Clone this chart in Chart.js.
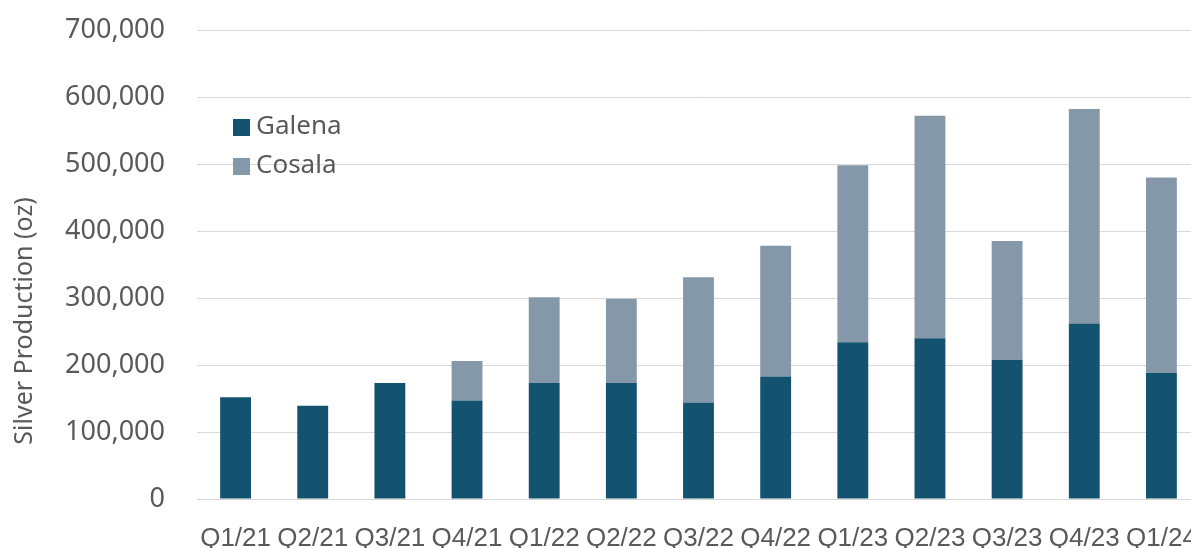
<!DOCTYPE html>
<html>
<head>
<meta charset="utf-8">
<title>Silver Production</title>
<script src="https://cdn.jsdelivr.net/npm/chart.js@4.4.1/dist/chart.umd.min.js"></script>
<style>
  html, body { margin: 0; padding: 0; background: #fff; overflow: hidden; }
  .chart-wrap { width: 1200px; height: 548px; }
</style>
</head>
<body>
<div class="chart-wrap">
  <canvas id="silverChart" width="1200" height="548"></canvas>
</div>
<script>
const quarters = ['Q1/21', 'Q2/21', 'Q3/21', 'Q4/21', 'Q1/22', 'Q2/22', 'Q3/22', 'Q4/22', 'Q1/23', 'Q2/23', 'Q3/23', 'Q4/23', 'Q1/24'];
const galena = [152000, 139000, 173000, 147000, 173000, 173000, 144000, 183000, 234000, 240000, 208000, 262000, 188000];
const cosala = [null, null, null, 59000, 128000, 126000, 187000, 195000, 264000, 332000, 177000, 320000, 292000];
const yTicks = [0, 100000, 200000, 300000, 400000, 500000, 600000, 700000];
const yTitle = 'Silver Production (oz)';

const textGrey = '#595959';
const mainFont = "'Noto Sans', 'Open Sans', sans-serif";
const axisFont = "'Liberation Sans', Arial, sans-serif";

// legend sits inside the plot (top-left) and the axis title sits a bit low,
// so both are drawn here instead of by the built-in legend/title
const extraText = {
  id: 'extraText',
  afterDatasetsDraw(chart) {
    const ctx = chart.ctx;
    ctx.save();
    ctx.font = '26px ' + mainFont;
    ctx.textBaseline = 'middle';
    chart.data.datasets.forEach((ds, i) => {
      const cy = 127 + i * 39;
      ctx.fillStyle = ds.backgroundColor;
      ctx.fillRect(233, cy - 8, 17, 17);
      ctx.fillStyle = textGrey;
      ctx.fillText(ds.label, 256, cy);
    });

    ctx.translate(25, 321);
    ctx.rotate(-Math.PI / 2);
    ctx.textAlign = 'center';
    ctx.font = '25px ' + mainFont;
    ctx.fillText(yTitle, 0, 0);
    ctx.restore();
  }
};

new Chart(document.getElementById('silverChart'), {
  type: 'bar',
  data: {
    labels: quarters,
    datasets: [
      {
        label: 'Galena',
        data: galena,
        backgroundColor: '#14536f',
        categoryPercentage: 1,
        barPercentage: 0.4
      },
      {
        label: 'Cosala',
        data: cosala,
        backgroundColor: '#8598aa',
        categoryPercentage: 1,
        barPercentage: 0.4
      }
    ]
  },
  options: {
    responsive: false,
    animation: false,
    layout: { padding: { top: 30, right: 0, bottom: 0, left: 0 } },
    plugins: {
      legend: { display: false },
      tooltip: { enabled: false }
    },
    scales: {
      x: {
        stacked: true,
        grid: { display: false },
        border: { display: false },
        ticks: {
          color: textGrey,
          font: { family: axisFont, size: 26 },
          padding: 16,
          maxRotation: 0,
          autoSkip: false
        },
        afterFit(scale) {
          scale.height = 49;
          scale.paddingLeft = 0;
          scale.paddingRight = 0;
        }
      },
      y: {
        stacked: true,
        min: 0,
        max: 700000,
        afterBuildTicks(scale) { scale.ticks = yTicks.map(v => ({ value: v })); },
        grid: { color: '#d9d9d9', lineWidth: 1, drawTicks: false },
        border: { display: false },
        ticks: {
          color: textGrey,
          font: { family: mainFont, size: 27 },
          padding: 32,
          callback: v => v.toLocaleString('en-US')
        },
        afterFit(scale) {
          // tick padding would otherwise push the plot top down
          scale.width = 197;
          scale.paddingTop = 0;
          scale.paddingBottom = 0;
        }
      }
    }
  },
  plugins: [extraText]
});
</script>
</body>
</html>
